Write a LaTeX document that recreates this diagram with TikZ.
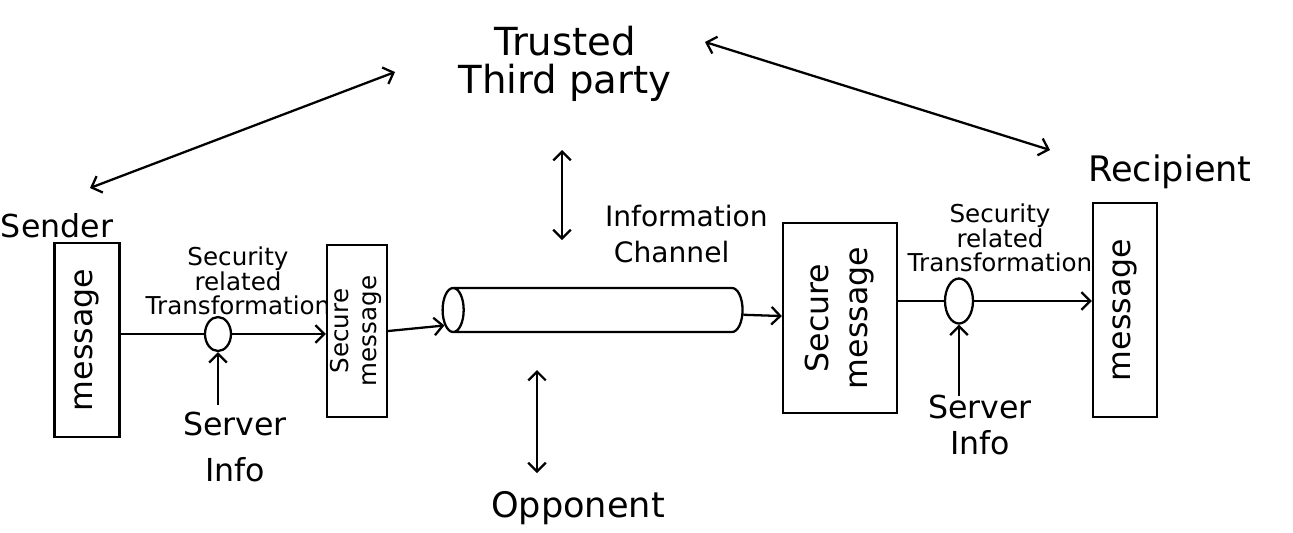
\documentclass[tikz,border=0pt]{standalone}
\usepackage{fontspec}
\setmainfont{DejaVu Sans}
\usetikzlibrary{arrows.meta,shapes.geometric}

\begin{document}
\begin{tikzpicture}[x=0.02cm, y=-0.02cm, line width=1.3pt,
  >={Straight Barb[length=5pt,width=10pt]},
  box/.style={draw, inner sep=0pt},
  xform/.style={draw, ellipse, inner sep=0pt},
  lbl/.style={font=\fontsize{18}{26}\selectfont, align=center},
  small/.style={font=\fontsize{14}{14}\selectfont, align=center}]

\useasboundingbox (0,0) rectangle (1293,532);

% Parties
\node[lbl, font=\fontsize{22}{22}\selectfont] (tp) at (565,64) {Trusted\\Third party};
\node[lbl] (snd) at (57,226) {Sender};
\node[lbl, font=\fontsize{20}{20}\selectfont] (rcp) at (1170,172) {Recipient};

% Sender side
\node[box, minimum width=1.3cm, minimum height=3.88cm] (msgL) at (87,340)
  {\rotatebox{90}{\fontsize{18}{18}\selectfont message}};
\node[xform, minimum width=0.52cm, minimum height=0.68cm] (tfL) at (218,334) {};
\node[small] (secL) at (238,281) {Security\\related\\Transformation};
\node[lbl] (srvL) at (235,447) {Server\\Info};
\node[box, minimum width=1.2cm, minimum height=3.44cm] (smL) at (357,331)
  {\rotatebox{90}{\fontsize{14}{16}\selectfont\begin{tabular}{@{}c@{}}Secure\\message\end{tabular}}};

% Channel
\node[draw, cylinder, shape border rotate=180, shape aspect=1.8,
  minimum width=0.88cm, minimum height=6cm] (chan) at (602,310) {};
\node[lbl, font=\fontsize{16}{20}\selectfont, align=left, anchor=west] (ic) at (598,234)
  {Information\\\ Channel};
\node[lbl, font=\fontsize{20}{20}\selectfont] (opp) at (578,508) {Opponent};

% Recipient side
\node[box, minimum width=2.28cm, minimum height=3.8cm] (smR) at (840,318)
  {\rotatebox{90}{\fontsize{18}{22}\selectfont\begin{tabular}{@{}c@{}}Secure\\message\end{tabular}}};
\node[xform, minimum width=0.56cm, minimum height=0.9cm] (tfR) at (959,301) {};
\node[small] (secR) at (1000,238) {Security\\related\\Transformation};
\node[lbl, font=\fontsize{18}{20}\selectfont] (srvR) at (980,425) {Server\\Info};
\node[box, minimum width=1.28cm, minimum height=4.28cm] (msgR) at (1125,310)
  {\rotatebox{90}{\fontsize{18}{18}\selectfont message}};

% free ends of the long arrows
\coordinate (tpA) at (395,72);
\coordinate (sndA) at (90,188);
\coordinate (tpB) at (705,42);
\coordinate (rcpA) at (1050,150);
\coordinate (icA) at (562,150);
\coordinate (icB) at (562,240);
\coordinate (oppA) at (537,370);
\coordinate (oppB) at (537,473);

\draw[<->] (tpA) -- (sndA);
\draw[<->] (tpB) -- (rcpA);
\draw[<->] (icA) -- (icB);
\draw[<->] (oppA) -- (oppB);

% message flow
\draw (msgL.east |- tfL) -- (tfL);
\draw[->] (tfL) -- (tfL -| smL.west);
\draw[->] (srvL.north -| tfL) -- (tfL.south);
\draw[->] (smL.east) -- (chan);
\draw[->] (chan) -- (smR);
\draw (smR.east |- tfR) -- (tfR);
\draw[->] (tfR) -- (tfR -| msgR.west);
\draw[->] ([yshift=-4pt]srvR.north -| tfR) -- (tfR.south);

\end{tikzpicture}
\end{document}
